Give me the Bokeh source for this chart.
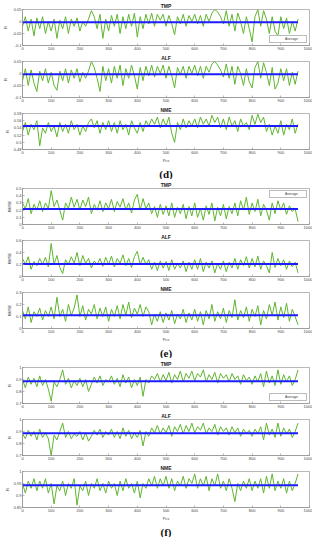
from bokeh.plotting import figure
from bokeh.layouts import column
from bokeh.models import Range1d, FixedTicker, Title, Legend, LegendItem
from bokeh.embed import file_html
from bokeh.resources import INLINE

pcs = list(range(0, 961, 10))

titles = ["TMP", "ALF", "NME"]

# (d) R
d_tmp = [-0.02, 0.02, -0.04, 0.01, -0.06, 0.015, -0.03, 0.02, -0.05, 0.0,
         -0.04, 0.01, -0.07, 0.005, -0.03, 0.02, -0.05, 0.01, -0.02, 0.015,
         -0.04, 0.0, -0.02, 0.01, 0.045, 0.02, -0.03, 0.03, -0.07, 0.01,
         -0.04, 0.025, -0.02, 0.03, -0.05, 0.02, -0.03, 0.03, -0.02, 0.035,
         -0.065, 0.02, -0.03, 0.03, -0.01, 0.035, -0.02, 0.03, 0.005, 0.03,
         -0.02, 0.025, -0.01, -0.055, 0.02, -0.01, 0.03, -0.02, 0.025, 0.0,
         0.03, -0.01, 0.025, -0.02, 0.03, 0.0, 0.035, 0.05, 0.04, 0.02,
         -0.01, 0.045, -0.02, 0.03, -0.04, 0.035, 0.0, -0.05, 0.02, -0.03,
         -0.085, 0.02, 0.05, -0.02, 0.045, 0.01, -0.05, 0.02, -0.04, -0.06,
         0.02, -0.03, 0.015, -0.05, 0.0, -0.04, 0.01]
d_alf = [-0.03, 0.02, -0.05, 0.015, -0.04, -0.075, 0.01, -0.03, 0.02, -0.04,
         0.005, -0.05, -0.07, 0.01, -0.03, 0.02, -0.04, 0.015, -0.02, 0.02,
         -0.035, 0.005, -0.02, 0.01, 0.05, 0.025, -0.02, -0.075, 0.03, -0.03,
         0.02, -0.04, 0.03, -0.02, 0.035, -0.05, 0.02, -0.02, 0.035, -0.01,
         -0.065, 0.025, -0.03, 0.03, -0.01, 0.035, -0.015, 0.03, 0.0, 0.035,
         -0.02, 0.03, -0.01, -0.06, 0.025, -0.005, 0.03, -0.02, 0.03, 0.0,
         0.035, -0.01, 0.03, -0.02, 0.03, 0.005, 0.04, 0.05, 0.035, 0.015,
         -0.015, 0.04, -0.02, 0.03, -0.045, 0.03, 0.0, -0.05, 0.02, -0.035,
         -0.06, 0.025, 0.05, -0.02, 0.045, 0.005, -0.05, 0.025, -0.065, -0.04,
         0.02, -0.03, 0.02, -0.05, 0.005, -0.045, 0.01]
d_nme = [0.53, 0.555, 0.52, 0.55, 0.535, 0.56, 0.49, 0.54, 0.525, 0.555,
         0.53, 0.545, 0.515, 0.555, 0.53, 0.55, 0.525, 0.56, 0.535, 0.55,
         0.52, 0.545, 0.53, 0.555, 0.565, 0.54, 0.56, 0.525, 0.555, 0.535,
         0.56, 0.53, 0.555, 0.525, 0.56, 0.535, 0.55, 0.52, 0.56, 0.54,
         0.525, 0.555, 0.53, 0.56, 0.545, 0.565, 0.55, 0.57, 0.54, 0.565,
         0.545, 0.57, 0.525, 0.5, 0.555, 0.535, 0.565, 0.54, 0.56, 0.545,
         0.565, 0.54, 0.57, 0.55, 0.565, 0.545, 0.575, 0.555, 0.57, 0.54,
         0.565, 0.535, 0.57, 0.545, 0.56, 0.53, 0.565, 0.545, 0.555, 0.535,
         0.575, 0.55, 0.578, 0.555, 0.57, 0.53, 0.55, 0.52, 0.545, 0.525,
         0.56, 0.52, 0.55, 0.535, 0.565, 0.525, 0.55]

# (e) RMSE
e_tmp = [0.3, 0.22, 0.36, 0.15, 0.28, 0.2, 0.33, 0.18, 0.3, 0.22,
         0.47, 0.25, 0.34, 0.2, 0.06, 0.3, 0.22, 0.38, 0.24, 0.35,
         0.2, 0.34, 0.25, 0.38, 0.15, 0.28, 0.2, 0.33, 0.18, 0.3,
         0.22, 0.35, 0.18, 0.32, 0.24, 0.36, 0.2, 0.3, 0.16, 0.34,
         0.42, 0.2, 0.36, 0.22, 0.3, 0.15, 0.25, 0.1, 0.28, 0.14,
         0.26, 0.12, 0.3, 0.1, 0.24, 0.15, 0.28, 0.08, 0.25, 0.12,
         0.3, 0.1, 0.22, 0.06, 0.26, 0.14, 0.3, 0.05, 0.24, 0.12,
         0.28, 0.08, 0.25, 0.15, 0.3, 0.12, 0.33, 0.2, 0.38, 0.14,
         0.3, 0.18, 0.35, 0.12, 0.28, 0.2, 0.06, 0.3, 0.15, 0.33,
         0.2, 0.3, 0.14, 0.26, 0.18, 0.22, 0.04]
e_alf = [0.3, 0.2, 0.33, 0.12, 0.25, 0.18, 0.3, 0.2, 0.32, 0.16,
         0.55, 0.2, 0.35, 0.15, 0.05, 0.28, 0.2, 0.33, 0.22, 0.4,
         0.18, 0.35, 0.22, 0.3, 0.14, 0.26, 0.2, 0.3, 0.17, 0.32,
         0.2, 0.34, 0.16, 0.3, 0.22, 0.36, 0.18, 0.3, 0.15, 0.33,
         0.42, 0.2, 0.32, 0.2, 0.28, 0.12, 0.24, 0.1, 0.26, 0.14,
         0.25, 0.1, 0.28, 0.12, 0.22, 0.14, 0.26, 0.08, 0.24, 0.12,
         0.28, 0.12, 0.3, 0.08, 0.24, 0.14, 0.26, 0.06, 0.22, 0.12,
         0.26, 0.08, 0.24, 0.14, 0.3, 0.12, 0.28, 0.18, 0.33, 0.14,
         0.3, 0.16, 0.34, 0.12, 0.26, 0.18, 0.06, 0.4, 0.15, 0.3,
         0.18, 0.28, 0.12, 0.26, 0.16, 0.24, 0.06]
e_nme = [0.15, 0.08, 0.18, 0.05, 0.14, 0.1, 0.17, 0.07, 0.15, 0.1,
         0.18, 0.08, 0.26, 0.1, 0.16, 0.06, 0.2, 0.11, 0.17, 0.28,
         0.1, 0.19, 0.07, 0.16, 0.12, 0.2, 0.08, 0.17, 0.1, 0.18,
         0.06, 0.16, 0.1, 0.19, 0.08, 0.2, 0.11, 0.22, 0.09, 0.17,
         0.12, 0.2, 0.1, 0.18, 0.14, 0.03, 0.12, 0.06, 0.14, 0.05,
         0.13, 0.07, 0.15, 0.04, 0.12, 0.08, 0.16, 0.05, 0.13, 0.07,
         0.16, 0.06, 0.14, 0.03, 0.15, 0.08, 0.2, 0.06, 0.14, 0.08,
         0.17, 0.05, 0.15, 0.09, 0.24, 0.07, 0.15, 0.09, 0.18, 0.06,
         0.16, 0.1, 0.19, 0.03, 0.15, 0.08, 0.2, 0.11, 0.22, 0.07,
         0.18, 0.09, 0.21, 0.06, 0.16, 0.1, 0.03]

# (f) R
f_tmp = [0.9, 0.83, 0.92, 0.86, 0.91, 0.84, 0.93, 0.85, 0.9, 0.82,
         0.72, 0.88, 0.84, 0.9, 0.98, 0.86, 0.91, 0.83, 0.89, 0.85,
         0.91, 0.84, 0.9, 0.8, 0.86, 0.92, 0.87, 0.93, 0.85, 0.9,
         0.88, 0.93, 0.86, 0.91, 0.84, 0.94, 0.87, 0.92, 0.83, 0.9,
         0.85, 0.92, 0.76, 0.9, 0.87, 0.93, 0.9, 0.95, 0.88, 0.94,
         0.89, 0.96, 0.87, 0.94, 0.9, 0.97, 0.88, 0.95, 0.91, 0.97,
         0.89, 0.95, 0.92, 0.98, 0.88, 0.94, 0.9, 0.96, 0.87, 0.95,
         0.91, 0.94, 0.88, 0.95, 0.9, 0.93, 0.86, 0.94, 0.89, 0.92,
         0.86, 0.93, 0.88, 0.95, 0.84, 0.97, 0.87, 0.93, 0.85, 0.98,
         0.86, 0.94, 0.88, 0.93, 0.85, 0.9, 0.98]
f_alf = [0.88, 0.84, 0.91, 0.86, 0.9, 0.83, 0.92, 0.85, 0.89, 0.84,
         0.7, 0.87, 0.83, 0.9, 0.97, 0.85, 0.9, 0.84, 0.88, 0.86,
         0.9, 0.83, 0.89, 0.82, 0.86, 0.91, 0.87, 0.92, 0.85, 0.9,
         0.87, 0.92, 0.85, 0.9, 0.84, 0.93, 0.86, 0.91, 0.84, 0.89,
         0.85, 0.91, 0.78, 0.9, 0.86, 0.93, 0.89, 0.95, 0.88, 0.93,
         0.89, 0.95, 0.86, 0.94, 0.9, 0.96, 0.88, 0.95, 0.9, 0.97,
         0.89, 0.94, 0.91, 0.97, 0.88, 0.93, 0.9, 0.96, 0.87, 0.94,
         0.9, 0.93, 0.87, 0.94, 0.89, 0.93, 0.86, 0.92, 0.88, 0.91,
         0.86, 0.92, 0.88, 0.94, 0.83, 0.97, 0.87, 0.92, 0.85, 0.97,
         0.86, 0.93, 0.88, 0.92, 0.85, 0.9, 0.97]
f_nme = [0.95, 0.91, 0.96, 0.93, 0.97, 0.92, 0.96, 0.93, 0.97, 0.91,
         0.95, 0.865, 0.94, 0.92, 0.96, 0.9, 0.95, 0.93, 0.97, 0.86,
         0.94, 0.92, 0.96, 0.9, 0.95, 0.93, 0.97, 0.92, 0.95, 0.91,
         0.96, 0.93, 0.95, 0.9, 0.96, 0.92, 0.97, 0.93, 0.95, 0.91,
         0.96, 0.89, 0.95, 0.93, 0.97, 0.94, 0.98, 0.93, 0.97, 0.94,
         0.98, 0.93, 0.97, 0.92, 0.96, 0.94, 0.98, 0.93, 0.97, 0.95,
         0.99, 0.93, 0.97, 0.94, 0.98, 0.92, 0.97, 0.94, 0.99, 0.93,
         0.96, 0.92, 0.97, 0.93, 0.875, 0.95, 0.92, 0.96, 0.93, 0.97,
         0.92, 0.96, 0.93, 0.97, 0.91, 0.98, 0.93, 0.99, 0.92, 0.96,
         0.93, 0.97, 0.91, 0.96, 0.92, 0.95, 0.99]

averages = {"d": [-0.003, -0.003, 0.545], "e": [0.215, 0.21, 0.11], "f": [0.886, 0.886, 0.943]}

y_ticks = {
    "d": [[-0.1, -0.05, 0.0, 0.05], [-0.1, -0.05, 0.0, 0.05], [0.48, 0.5, 0.52, 0.54, 0.56, 0.58]],
    "e": [[0.0, 0.1, 0.2, 0.3, 0.4, 0.5], [0.0, 0.2, 0.4, 0.6], [0.0, 0.1, 0.2, 0.3]],
    "f": [[0.7, 0.8, 0.9, 1.0], [0.7, 0.8, 0.9, 1.0], [0.85, 0.9, 0.95, 1.0]],
}
y_tick_labels = {
    "d": [["-0.1", "-0.05", "0", "0.05"], ["-0.1", "-0.05", "0", "0.05"],
          ["0.48", "0.5", "0.52", "0.54", "0.56", "0.58"]],
    "e": [["0", "0.1", "0.2", "0.3", "0.4", "0.5"], ["0", "0.2", "0.4", "0.6"], ["0", "0.1", "0.2", "0.3"]],
    "f": [["0.7", "0.8", "0.9", "1"], ["0.7", "0.8", "0.9", "1"], ["0.85", "0.9", "0.95", "1"]],
}
y_names = {"d": "R", "e": "RMSE", "f": "R"}
series = {"d": [d_tmp, d_alf, d_nme], "e": [e_tmp, e_alf, e_nme], "f": [f_tmp, f_alf, f_nme]}
legend_pos = {"d": "bottom_right", "e": "top_right", "f": "bottom_right"}
x_ticks = list(range(0, 1001, 100))

FONT = "Liberation Sans"
GREEN = "#5fb52f"
BLUE = "#1c1cff"
LEG = "#66c2ee"
GRAY = "#8a8a8a"


def make_panel(group, i):
    ys = series[group][i]
    ticks = y_ticks[group][i]
    labels = y_tick_labels[group][i]
    last = (i == 2)
    p = figure(width=312, frame_height=36, output_backend="svg", toolbar_location=None,
               x_range=Range1d(0, 1000), y_range=Range1d(ticks[0], ticks[-1]),
               min_border_left=17, min_border_right=3, min_border_top=0,
               min_border_bottom=0, background_fill_color="white",
               border_fill_color="white")
    p.title.text = titles[i]
    p.title.align = "center"
    p.title.text_font = FONT
    p.title.text_font_size = "5px"
    p.title.text_font_style = "bold"
    p.title.text_color = "#222222"
    p.title.offset = 0
    p.title.standoff = 1
    p.xgrid.visible = False
    p.ygrid.visible = False
    p.outline_line_color = GRAY
    p.outline_line_width = 0.6
    for ax in (p.xaxis[0], p.yaxis[0]):
        ax.axis_line_color = GRAY
        ax.axis_line_width = 0.6
        ax.major_tick_line_color = GRAY
        ax.major_tick_line_width = 0.6
        ax.major_tick_in = 2
        ax.major_tick_out = 0
        ax.minor_tick_line_color = None
        ax.major_label_text_font = FONT
        ax.major_label_text_font_size = "4px"
        ax.major_label_text_color = "#444444"
        ax.major_label_standoff = 1
        ax.axis_label_text_font = FONT
        ax.axis_label_text_font_size = "4px"
        ax.axis_label_text_font_style = "normal"
        ax.axis_label_text_color = "#444444"
        ax.axis_label_standoff = 1
    p.xaxis[0].ticker = FixedTicker(ticks=x_ticks)
    p.yaxis[0].ticker = FixedTicker(ticks=ticks)
    p.yaxis[0].major_label_overrides = {t: l for t, l in zip(ticks, labels)}
    p.yaxis[0].axis_label = y_names[group]
    if last:
        p.xaxis[0].axis_label = "Pcs"

    p.line(pcs, ys, line_color=GREEN, line_width=1)
    avg = averages[group][i]
    p.line([pcs[0], pcs[-1]], [avg, avg], line_color=BLUE, line_width=2)

    if i == 0:
        dummy = p.line([], [], line_color=LEG, line_width=1)
        leg = Legend(items=[LegendItem(label="Average", renderers=[dummy])],
                     location=legend_pos[group], label_text_font=FONT,
                     label_text_font_size="3.5px", label_height=4,
                     glyph_height=4, glyph_width=12, padding=1, margin=2,
                     spacing=0, label_standoff=2, border_line_color="#777777",
                     border_line_width=0.5, background_fill_alpha=1)
        p.add_layout(leg)
    if last:
        p.add_layout(Title(text="(" + group + ")", align="center",
                           text_font="Liberation Serif", text_font_size="11px",
                           text_font_style="bold", text_color="#111111",
                           offset=0, standoff=0), "below")
    return p


panels = []
for g in ["d", "e", "f"]:
    for k in range(3):
        panels.append(make_panel(g, k))

layout = column(*panels, spacing=0)
open("out.html", "w").write(file_html(layout, INLINE))
